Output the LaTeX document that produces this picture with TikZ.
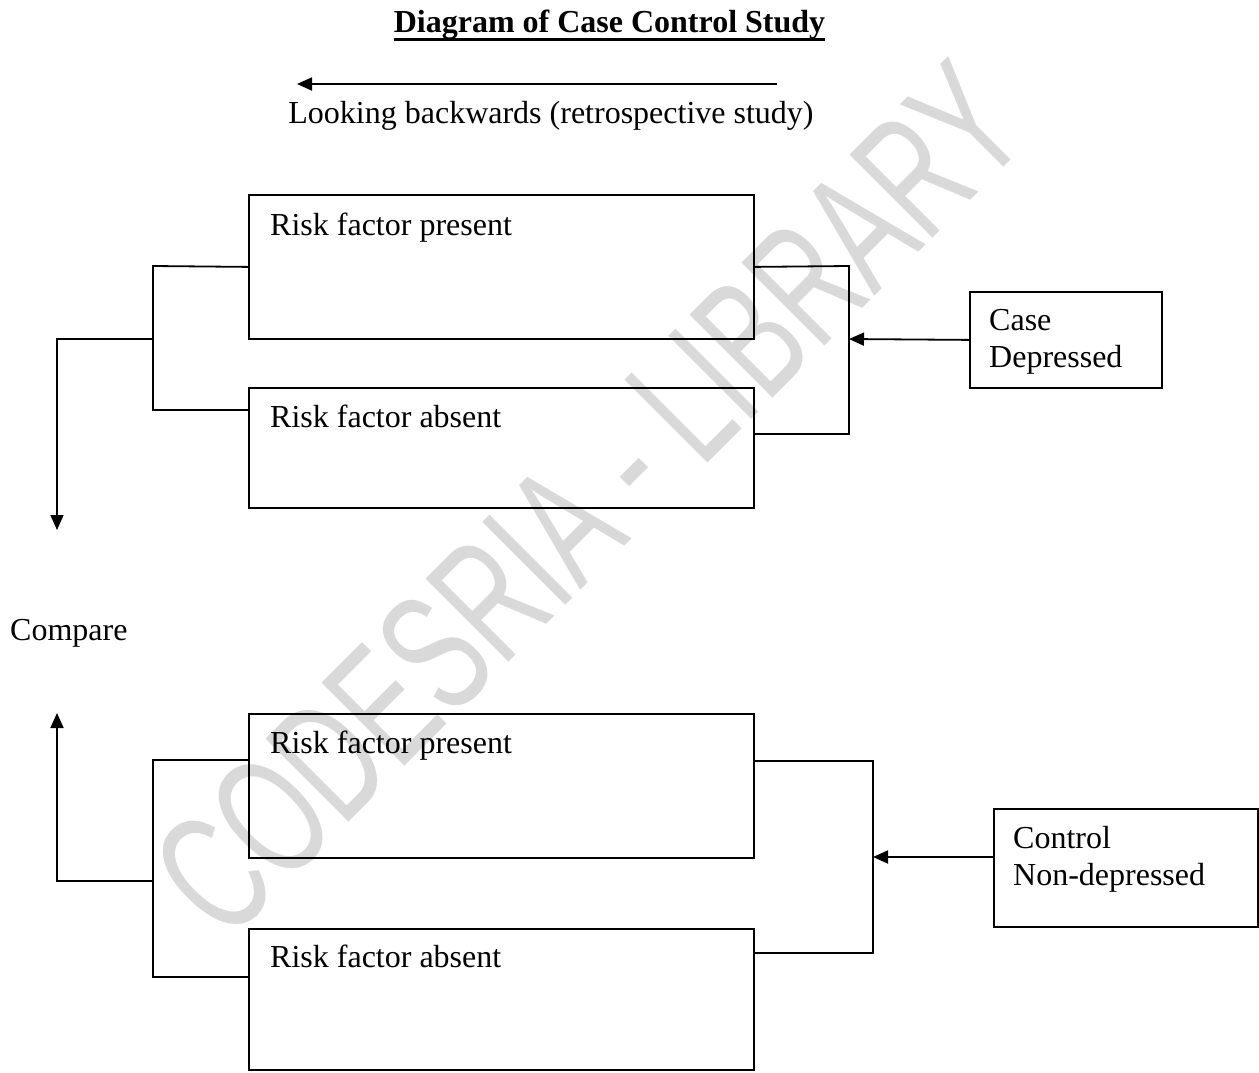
\documentclass[tikz,border=0pt]{standalone}
\usepackage{fontspec}
\setmainfont{Liberation Serif}
\newfontfamily\wmfont{Liberation Sans}
\usetikzlibrary{arrows.meta}
\definecolor{wmgray}{RGB}{217,217,217}
\begin{document}
\begin{tikzpicture}[x=1pt,y=-1pt,
  box/.style={draw, line width=1.8pt, rectangle, inner sep=0pt, anchor=north west},
  lbl/.style={anchor=base west, inner sep=0pt, font=\fontsize{32}{38}\selectfont},
  conn/.style={line width=1.8pt},
  arr/.style={-{Triangle[length=15pt,width=13pt]}, line width=1.8pt}]
\useasboundingbox (0,0) rectangle (1259,1072);
\fill[white] (0,0) rectangle (1259,1072);
% watermark
\node[rotate=45, text=wmgray, inner sep=0pt, font=\wmfont\fontsize{110}{110}\selectfont] (wm) at (588,500) {\scalebox{1}[1.55]{CODESRIA - LIBRARY}};
% title
\node[anchor=base, inner sep=0pt, font=\fontsize{32}{38}\selectfont\bfseries] (title) at (609.5,32) {Diagram of Case Control Study};
\draw[line width=2.6pt] ([yshift=-7.5pt]title.base west) -- ([yshift=-7.5pt]title.base east);
% looking backwards
\coordinate (ars) at (777,84);
\coordinate (are) at (297,84);
\draw[arr] (ars) -- (are);
\node[anchor=base, inner sep=0pt, font=\fontsize{32}{38}\selectfont] (look) at (551,123) {Looking backwards (retrospective study)};
% upper group
\node[box, minimum width=505pt, minimum height=144pt] (b1) at (248,194) {};
\node[lbl] (t1) at (270,235) {Risk factor present};
\node[box, minimum width=505pt, minimum height=120pt] (b2) at (248,387) {};
\node[lbl] (t2) at (270,427) {Risk factor absent};
\node[box, minimum width=192pt, minimum height=96pt] (cs) at (969,291) {};
\node[lbl] (cs1) at (989,330) {Case};
\node[lbl] (cs2) at (989,367) {Depressed};
% upper connectors
\coordinate (ul1) at (153,266);
\coordinate (ul2) at (153,410);
\coordinate (ulm) at (153,339);
\coordinate (ula) at (57,339);
\coordinate (ulb) at (57,530);
\draw[conn] (b1.west) -- (ul1) -- (ul2) -- (b2.west |- ul2);
\draw[arr] (ulm) -- (ula) -- (ulb);
\coordinate (ur1) at (849,266);
\coordinate (ur2) at (849,434);
\coordinate (urm) at (849,339);
\draw[conn] (b1.east) -- (ur1) -- (ur2) -- (b2.east |- ur2);
\draw[arr] (cs.west) -- (urm);
% compare
\node[lbl] (cmp) at (10,640) {Compare};
% lower group
\node[box, minimum width=505pt, minimum height=144pt] (b3) at (248,713) {};
\node[lbl] (t3) at (270,753) {Risk factor present};
\node[box, minimum width=505pt, minimum height=141pt] (b4) at (248,928) {};
\node[lbl] (t4) at (270,967) {Risk factor absent};
\node[box, minimum width=264pt, minimum height=118pt] (ct) at (993,808) {};
\node[lbl] (ct1) at (1013,848) {Control};
\node[lbl] (ct2) at (1013,885) {Non-depressed};
% lower connectors
\coordinate (ll1) at (153,760);
\coordinate (ll2) at (153,977);
\coordinate (llm) at (153,881);
\coordinate (lla) at (57,881);
\coordinate (llb) at (57,713);
\draw[conn] (b3.west |- ll1) -- (ll1) -- (ll2) -- (b4.west |- ll2);
\draw[arr] (llm) -- (lla) -- (llb);
\coordinate (lr1) at (873,761);
\coordinate (lr2) at (873,953);
\coordinate (lrm) at (873,857);
\draw[conn] (b3.east |- lr1) -- (lr1) -- (lr2) -- (b4.east |- lr2);
\draw[arr] (ct.west |- lrm) -- (lrm);
\end{tikzpicture}
\end{document}
